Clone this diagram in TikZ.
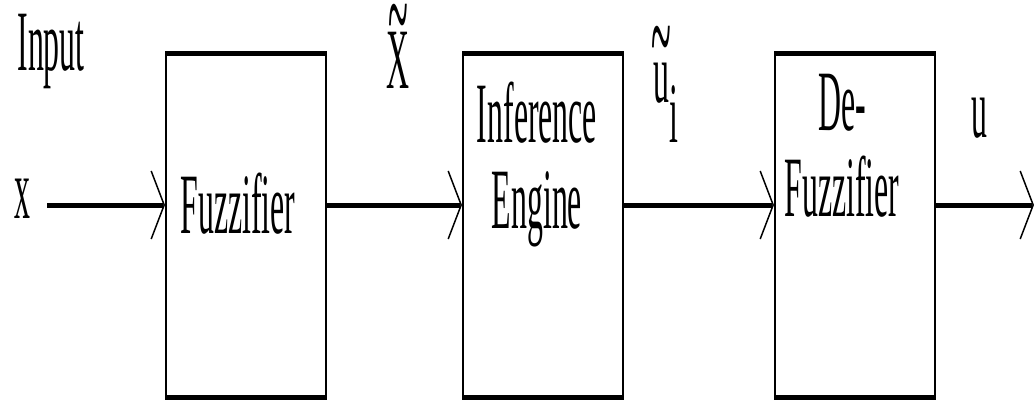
\documentclass[tikz,border=0pt]{standalone}
\usepackage{fontspec}
\setmainfont{Liberation Serif}
\usetikzlibrary{arrows.meta}
\newcommand\nrw[1]{\scalebox{0.37}[1]{\fontsize{86}{86}\selectfont #1}}
\newcommand\wtil[2]{\ooalign{#2\cr\hidewidth\raisebox{#1}{\scalebox{1.15}[1.5]{\textasciitilde}}\hidewidth\cr}}
\begin{document}
\begin{tikzpicture}[x=1pt,y=-1pt,
  blk/.style={draw, line width=2pt, minimum width=160pt, minimum height=342pt, inner sep=0pt},
  thickedge/.style={line width=5pt},
  conn/.style={line width=5pt, -{Straight Barb[length=13pt, width=68pt, line width=1.5pt]}},
  lbl/.style={inner sep=0pt, anchor=base}]
\useasboundingbox (0,0) rectangle (1034,400);
% blocks
\node[blk] (fz) at (246,225) {};
\node[blk] (ie) at (543,225) {};
\node[blk] (df) at (855,225) {};
\foreach \b in {fz,ie,df}{
  \draw[thickedge] (\b.north west) -- (\b.north east);
  \draw[thickedge] (\b.south west) -- (\b.south east);
}
% labels
\node[lbl] (inp) at (51,70) {\nrw{Input}};
\node[lbl] (xin) at (22,218) {\nrw{x}};
\node[lbl] (fzt) at (238,233) {\nrw{Fuzzifier}};
\node[lbl] (xt) at (398,88) {\nrw{\wtil{31pt}{X}}};
\node[lbl] (iet) at (537,142) {\nrw{\begin{tabular}[t]{@{}c@{}}Inference\\Engine\end{tabular}}};
\node[lbl] (ut) at (666,102) {\nrw{\wtil{23pt}{u}\raisebox{-40pt}{i}}};
\node[lbl] (dft) at (842,130) {\nrw{\begin{tabular}[t]{@{}c@{}}De-\\Fuzzifier\end{tabular}}};
\node[lbl] (uo) at (979,137) {\nrw{u}};
% connectors
\coordinate (start) at (47,205);
\coordinate (out) at (1034,205);
\draw[conn] (start) -- (fz.west |- start);
\draw[conn] (fz.east |- start) -- (ie.west |- start);
\draw[conn] (ie.east |- start) -- (df.west |- start);
\draw[conn] (df.east |- start) -- (out);
\end{tikzpicture}
\end{document}
